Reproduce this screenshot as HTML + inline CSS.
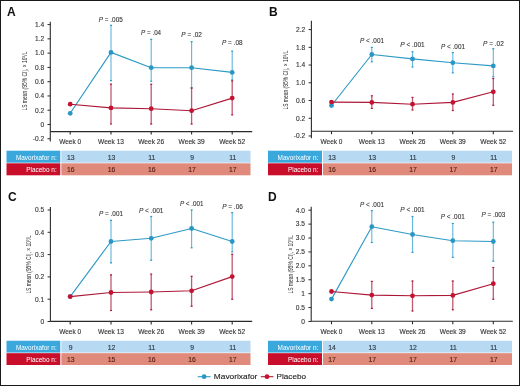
<!DOCTYPE html>
<html><head><meta charset="utf-8"><style>
html,body{margin:0;padding:0;background:#fff;}
body{width:520px;height:386px;overflow:hidden;position:relative;}
.frame{position:absolute;left:0;top:0;width:518px;height:384px;border:1px solid #1a1a1a;}
svg{position:absolute;left:0;top:0;font-family:"Liberation Sans", sans-serif;will-change:transform;}
</style></head><body>
<div class="frame"></div>
<svg width="520" height="386" viewBox="0 0 520 386">
<text x="7" y="15.5" font-size="12" text-anchor="start" fill="#111" font-weight="bold" >A</text>
<text transform="translate(27.0,81.1) rotate(-90)" font-size="6.6" text-anchor="middle" fill="#2a2a2a" textLength="59.0" lengthAdjust="spacingAndGlyphs">LS mean (95% CI), × 10<tspan font-size="4.2" dy="-1.8">9</tspan><tspan dy="1.8">/L</tspan></text>
<line x1="50.3" y1="21.7" x2="50.3" y2="141.4" stroke="#2b2b2b" stroke-width="1.1"/>
<line x1="47.5" y1="24.6" x2="50.3" y2="24.6" stroke="#2b2b2b" stroke-width="1.0"/>
<text x="44.099999999999994" y="26.900000000000002" font-size="6.6" text-anchor="end" fill="#333333" font-weight="normal" stroke="#333333" stroke-width="0.12">1.4</text>
<line x1="47.5" y1="38.870000000000005" x2="50.3" y2="38.870000000000005" stroke="#2b2b2b" stroke-width="1.0"/>
<text x="44.099999999999994" y="41.17" font-size="6.6" text-anchor="end" fill="#333333" font-weight="normal" stroke="#333333" stroke-width="0.12">1.2</text>
<line x1="47.5" y1="53.14" x2="50.3" y2="53.14" stroke="#2b2b2b" stroke-width="1.0"/>
<text x="44.099999999999994" y="55.44" font-size="6.6" text-anchor="end" fill="#333333" font-weight="normal" stroke="#333333" stroke-width="0.12">1.0</text>
<line x1="47.5" y1="67.41" x2="50.3" y2="67.41" stroke="#2b2b2b" stroke-width="1.0"/>
<text x="44.099999999999994" y="69.71" font-size="6.6" text-anchor="end" fill="#333333" font-weight="normal" stroke="#333333" stroke-width="0.12">0.8</text>
<line x1="47.5" y1="81.68" x2="50.3" y2="81.68" stroke="#2b2b2b" stroke-width="1.0"/>
<text x="44.099999999999994" y="83.98" font-size="6.6" text-anchor="end" fill="#333333" font-weight="normal" stroke="#333333" stroke-width="0.12">0.6</text>
<line x1="47.5" y1="95.94999999999999" x2="50.3" y2="95.94999999999999" stroke="#2b2b2b" stroke-width="1.0"/>
<text x="44.099999999999994" y="98.24999999999999" font-size="6.6" text-anchor="end" fill="#333333" font-weight="normal" stroke="#333333" stroke-width="0.12">0.4</text>
<line x1="47.5" y1="110.22" x2="50.3" y2="110.22" stroke="#2b2b2b" stroke-width="1.0"/>
<text x="44.099999999999994" y="112.52" font-size="6.6" text-anchor="end" fill="#333333" font-weight="normal" stroke="#333333" stroke-width="0.12">0.2</text>
<line x1="47.5" y1="124.49000000000001" x2="50.3" y2="124.49000000000001" stroke="#2b2b2b" stroke-width="1.0"/>
<text x="44.099999999999994" y="126.79" font-size="6.6" text-anchor="end" fill="#333333" font-weight="normal" stroke="#333333" stroke-width="0.12">0</text>
<line x1="47.5" y1="138.76" x2="50.3" y2="138.76" stroke="#2b2b2b" stroke-width="1.0"/>
<text x="44.099999999999994" y="141.06" font-size="6.6" text-anchor="end" fill="#333333" font-weight="normal" stroke="#333333" stroke-width="0.12">-0.2</text>
<line x1="50.3" y1="131.6" x2="252.2" y2="131.6" stroke="#2b2b2b" stroke-width="1.1"/>
<line x1="70.2" y1="131.6" x2="70.2" y2="134.6" stroke="#2b2b2b" stroke-width="1.1"/>
<text x="70.2" y="144.4" font-size="6.6" text-anchor="middle" fill="#333333" font-weight="normal" textLength="22" lengthAdjust="spacingAndGlyphs" stroke="#333333" stroke-width="0.12">Week 0</text>
<line x1="111.0" y1="131.6" x2="111.0" y2="134.6" stroke="#2b2b2b" stroke-width="1.1"/>
<text x="111.0" y="144.4" font-size="6.6" text-anchor="middle" fill="#333333" font-weight="normal" textLength="26" lengthAdjust="spacingAndGlyphs" stroke="#333333" stroke-width="0.12">Week 13</text>
<line x1="151.2" y1="131.6" x2="151.2" y2="134.6" stroke="#2b2b2b" stroke-width="1.1"/>
<text x="151.2" y="144.4" font-size="6.6" text-anchor="middle" fill="#333333" font-weight="normal" textLength="26" lengthAdjust="spacingAndGlyphs" stroke="#333333" stroke-width="0.12">Week 26</text>
<line x1="191.6" y1="131.6" x2="191.6" y2="134.6" stroke="#2b2b2b" stroke-width="1.1"/>
<text x="191.6" y="144.4" font-size="6.6" text-anchor="middle" fill="#333333" font-weight="normal" textLength="26" lengthAdjust="spacingAndGlyphs" stroke="#333333" stroke-width="0.12">Week 39</text>
<line x1="232.2" y1="131.6" x2="232.2" y2="134.6" stroke="#2b2b2b" stroke-width="1.1"/>
<text x="232.2" y="144.4" font-size="6.6" text-anchor="middle" fill="#333333" font-weight="normal" textLength="26" lengthAdjust="spacingAndGlyphs" stroke="#333333" stroke-width="0.12">Week 52</text>
<line x1="111.0" y1="25.2" x2="111.0" y2="80.9" stroke="#68b7dc" stroke-width="1.15"/>
<line x1="110.0" y1="25.4" x2="112.0" y2="25.4" stroke="#2e9ac6" stroke-width="1.2"/>
<line x1="110.0" y1="80.7" x2="112.0" y2="80.7" stroke="#2e9ac6" stroke-width="1.2"/>
<line x1="151.2" y1="39.1" x2="151.2" y2="81.5" stroke="#68b7dc" stroke-width="1.15"/>
<line x1="150.2" y1="39.300000000000004" x2="152.2" y2="39.300000000000004" stroke="#2e9ac6" stroke-width="1.2"/>
<line x1="150.2" y1="81.3" x2="152.2" y2="81.3" stroke="#2e9ac6" stroke-width="1.2"/>
<line x1="191.6" y1="41.5" x2="191.6" y2="87.9" stroke="#68b7dc" stroke-width="1.15"/>
<line x1="190.6" y1="41.7" x2="192.6" y2="41.7" stroke="#2e9ac6" stroke-width="1.2"/>
<line x1="190.6" y1="87.7" x2="192.6" y2="87.7" stroke="#2e9ac6" stroke-width="1.2"/>
<line x1="232.2" y1="50.9" x2="232.2" y2="80.2" stroke="#68b7dc" stroke-width="1.15"/>
<line x1="231.2" y1="51.1" x2="233.2" y2="51.1" stroke="#2e9ac6" stroke-width="1.2"/>
<line x1="231.2" y1="80.0" x2="233.2" y2="80.0" stroke="#2e9ac6" stroke-width="1.2"/>
<polyline points="70.2,113.3 111.0,52.4 151.2,67.7 191.6,67.7 232.2,72.4" fill="none" stroke="#2e9ac6" stroke-width="1.15" stroke-linejoin="round"/>
<circle cx="70.2" cy="113.3" r="2.4" fill="#2a96c4"/>
<circle cx="111.0" cy="52.4" r="2.4" fill="#2a96c4"/>
<circle cx="151.2" cy="67.7" r="2.4" fill="#2a96c4"/>
<circle cx="191.6" cy="67.7" r="2.4" fill="#2a96c4"/>
<circle cx="232.2" cy="72.4" r="2.4" fill="#2a96c4"/>
<line x1="111.0" y1="84.0" x2="111.0" y2="124.2" stroke="#c05a74" stroke-width="1.3"/>
<line x1="110.0" y1="84.2" x2="112.0" y2="84.2" stroke="#ad1838" stroke-width="1.2"/>
<line x1="110.0" y1="124.0" x2="112.0" y2="124.0" stroke="#ad1838" stroke-width="1.2"/>
<line x1="151.2" y1="84.0" x2="151.2" y2="124.2" stroke="#c05a74" stroke-width="1.3"/>
<line x1="150.2" y1="84.2" x2="152.2" y2="84.2" stroke="#ad1838" stroke-width="1.2"/>
<line x1="150.2" y1="124.0" x2="152.2" y2="124.0" stroke="#ad1838" stroke-width="1.2"/>
<line x1="191.6" y1="87.9" x2="191.6" y2="124.2" stroke="#c05a74" stroke-width="1.3"/>
<line x1="190.6" y1="88.10000000000001" x2="192.6" y2="88.10000000000001" stroke="#ad1838" stroke-width="1.2"/>
<line x1="190.6" y1="124.0" x2="192.6" y2="124.0" stroke="#ad1838" stroke-width="1.2"/>
<line x1="232.2" y1="80.7" x2="232.2" y2="115.1" stroke="#c05a74" stroke-width="1.3"/>
<line x1="231.2" y1="80.9" x2="233.2" y2="80.9" stroke="#ad1838" stroke-width="1.2"/>
<line x1="231.2" y1="114.89999999999999" x2="233.2" y2="114.89999999999999" stroke="#ad1838" stroke-width="1.2"/>
<polyline points="70.2,104.2 111.0,107.9 151.2,108.7 191.6,110.7 232.2,98.1" fill="none" stroke="#ad1838" stroke-width="1.15" stroke-linejoin="round"/>
<circle cx="70.2" cy="104.2" r="2.4" fill="#c41230"/>
<circle cx="111.0" cy="107.9" r="2.4" fill="#c41230"/>
<circle cx="151.2" cy="108.7" r="2.4" fill="#c41230"/>
<circle cx="191.6" cy="110.7" r="2.4" fill="#c41230"/>
<circle cx="232.2" cy="98.1" r="2.4" fill="#c41230"/>
<text x="110.8" y="21.8" font-size="6.6" text-anchor="middle" fill="#333333" stroke="#333333" stroke-width="0.1" textLength="24" lengthAdjust="spacingAndGlyphs"><tspan font-style="italic">P</tspan> = .005</text>
<text x="151.1" y="35.3" font-size="6.6" text-anchor="middle" fill="#333333" stroke="#333333" stroke-width="0.1" textLength="20" lengthAdjust="spacingAndGlyphs"><tspan font-style="italic">P</tspan> = .04</text>
<text x="191.6" y="36.699999999999996" font-size="6.6" text-anchor="middle" fill="#333333" stroke="#333333" stroke-width="0.1" textLength="20.5" lengthAdjust="spacingAndGlyphs"><tspan font-style="italic">P</tspan> = .02</text>
<text x="232.3" y="45.3" font-size="6.6" text-anchor="middle" fill="#333333" stroke="#333333" stroke-width="0.1" textLength="20.5" lengthAdjust="spacingAndGlyphs"><tspan font-style="italic">P</tspan> = .08</text>
<rect x="6.5" y="150.7" width="53.8" height="12.00000000000001" fill="#3aa7dd"/>
<rect x="61.3" y="150.7" width="189.2" height="12.00000000000001" fill="#b7d9f1"/>
<rect x="6.5" y="163.3" width="53.8" height="12.00000000000001" fill="#c90e2c"/>
<rect x="61.3" y="163.3" width="189.2" height="12.00000000000001" fill="#e08a7b"/>
<text x="56.699999999999996" y="159.65" font-size="6.45" text-anchor="end" fill="#ffffff" font-weight="normal" >Mavorixafor n:</text>
<text x="56.699999999999996" y="171.95000000000002" font-size="6.45" text-anchor="end" fill="#ffffff" font-weight="normal" >Placebo n:</text>
<text x="70.7" y="159.65" font-size="6.8" text-anchor="middle" fill="#2e3c4a" font-weight="normal" stroke="#2e3c4a" stroke-width="0.15">13</text>
<text x="70.7" y="171.95000000000002" font-size="6.8" text-anchor="middle" fill="#5a2218" font-weight="normal" stroke="#5a2218" stroke-width="0.15">16</text>
<text x="111.5" y="159.65" font-size="6.8" text-anchor="middle" fill="#2e3c4a" font-weight="normal" stroke="#2e3c4a" stroke-width="0.15">13</text>
<text x="111.5" y="171.95000000000002" font-size="6.8" text-anchor="middle" fill="#5a2218" font-weight="normal" stroke="#5a2218" stroke-width="0.15">16</text>
<text x="151.7" y="159.65" font-size="6.8" text-anchor="middle" fill="#2e3c4a" font-weight="normal" stroke="#2e3c4a" stroke-width="0.15">11</text>
<text x="151.7" y="171.95000000000002" font-size="6.8" text-anchor="middle" fill="#5a2218" font-weight="normal" stroke="#5a2218" stroke-width="0.15">16</text>
<text x="192.1" y="159.65" font-size="6.8" text-anchor="middle" fill="#2e3c4a" font-weight="normal" stroke="#2e3c4a" stroke-width="0.15">9</text>
<text x="192.1" y="171.95000000000002" font-size="6.8" text-anchor="middle" fill="#5a2218" font-weight="normal" stroke="#5a2218" stroke-width="0.15">17</text>
<text x="232.7" y="159.65" font-size="6.8" text-anchor="middle" fill="#2e3c4a" font-weight="normal" stroke="#2e3c4a" stroke-width="0.15">11</text>
<text x="232.7" y="171.95000000000002" font-size="6.8" text-anchor="middle" fill="#5a2218" font-weight="normal" stroke="#5a2218" stroke-width="0.15">17</text>
<text x="269" y="15.5" font-size="12" text-anchor="start" fill="#111" font-weight="bold" >B</text>
<text transform="translate(288.0,80.1) rotate(-90)" font-size="6.6" text-anchor="middle" fill="#2a2a2a" textLength="59.0" lengthAdjust="spacingAndGlyphs">LS mean (95% CI), × 10<tspan font-size="4.2" dy="-1.8">9</tspan><tspan dy="1.8">/L</tspan></text>
<line x1="311.4" y1="20.7" x2="311.4" y2="138.3" stroke="#2b2b2b" stroke-width="1.1"/>
<line x1="308.59999999999997" y1="29.6" x2="311.4" y2="29.6" stroke="#2b2b2b" stroke-width="1.0"/>
<text x="305.2" y="31.900000000000002" font-size="6.6" text-anchor="end" fill="#333333" font-weight="normal" stroke="#333333" stroke-width="0.12">2.2</text>
<line x1="308.59999999999997" y1="47.33" x2="311.4" y2="47.33" stroke="#2b2b2b" stroke-width="1.0"/>
<text x="305.2" y="49.629999999999995" font-size="6.6" text-anchor="end" fill="#333333" font-weight="normal" stroke="#333333" stroke-width="0.12">1.8</text>
<line x1="308.59999999999997" y1="65.06" x2="311.4" y2="65.06" stroke="#2b2b2b" stroke-width="1.0"/>
<text x="305.2" y="67.36" font-size="6.6" text-anchor="end" fill="#333333" font-weight="normal" stroke="#333333" stroke-width="0.12">1.4</text>
<line x1="308.59999999999997" y1="82.78999999999999" x2="311.4" y2="82.78999999999999" stroke="#2b2b2b" stroke-width="1.0"/>
<text x="305.2" y="85.08999999999999" font-size="6.6" text-anchor="end" fill="#333333" font-weight="normal" stroke="#333333" stroke-width="0.12">1.0</text>
<line x1="308.59999999999997" y1="100.52000000000001" x2="311.4" y2="100.52000000000001" stroke="#2b2b2b" stroke-width="1.0"/>
<text x="305.2" y="102.82000000000001" font-size="6.6" text-anchor="end" fill="#333333" font-weight="normal" stroke="#333333" stroke-width="0.12">0.6</text>
<line x1="308.59999999999997" y1="118.25" x2="311.4" y2="118.25" stroke="#2b2b2b" stroke-width="1.0"/>
<text x="305.2" y="120.55" font-size="6.6" text-anchor="end" fill="#333333" font-weight="normal" stroke="#333333" stroke-width="0.12">0.2</text>
<line x1="308.59999999999997" y1="135.98" x2="311.4" y2="135.98" stroke="#2b2b2b" stroke-width="1.0"/>
<text x="305.2" y="138.28" font-size="6.6" text-anchor="end" fill="#333333" font-weight="normal" stroke="#333333" stroke-width="0.12">-0.2</text>
<line x1="311.4" y1="131.2" x2="513.0" y2="131.2" stroke="#2b2b2b" stroke-width="1.1"/>
<line x1="331.5" y1="131.2" x2="331.5" y2="134.2" stroke="#2b2b2b" stroke-width="1.1"/>
<text x="331.5" y="144.0" font-size="6.6" text-anchor="middle" fill="#333333" font-weight="normal" textLength="22" lengthAdjust="spacingAndGlyphs" stroke="#333333" stroke-width="0.12">Week 0</text>
<line x1="371.8" y1="131.2" x2="371.8" y2="134.2" stroke="#2b2b2b" stroke-width="1.1"/>
<text x="371.8" y="144.0" font-size="6.6" text-anchor="middle" fill="#333333" font-weight="normal" textLength="26" lengthAdjust="spacingAndGlyphs" stroke="#333333" stroke-width="0.12">Week 13</text>
<line x1="412.5" y1="131.2" x2="412.5" y2="134.2" stroke="#2b2b2b" stroke-width="1.1"/>
<text x="412.5" y="144.0" font-size="6.6" text-anchor="middle" fill="#333333" font-weight="normal" textLength="26" lengthAdjust="spacingAndGlyphs" stroke="#333333" stroke-width="0.12">Week 26</text>
<line x1="452.8" y1="131.2" x2="452.8" y2="134.2" stroke="#2b2b2b" stroke-width="1.1"/>
<text x="452.8" y="144.0" font-size="6.6" text-anchor="middle" fill="#333333" font-weight="normal" textLength="26" lengthAdjust="spacingAndGlyphs" stroke="#333333" stroke-width="0.12">Week 39</text>
<line x1="493.3" y1="131.2" x2="493.3" y2="134.2" stroke="#2b2b2b" stroke-width="1.1"/>
<text x="493.3" y="144.0" font-size="6.6" text-anchor="middle" fill="#333333" font-weight="normal" textLength="26" lengthAdjust="spacingAndGlyphs" stroke="#333333" stroke-width="0.12">Week 52</text>
<line x1="371.8" y1="47.2" x2="371.8" y2="62.0" stroke="#68b7dc" stroke-width="1.15"/>
<line x1="370.8" y1="47.400000000000006" x2="372.8" y2="47.400000000000006" stroke="#2e9ac6" stroke-width="1.2"/>
<line x1="370.8" y1="61.8" x2="372.8" y2="61.8" stroke="#2e9ac6" stroke-width="1.2"/>
<line x1="412.5" y1="51.6" x2="412.5" y2="67.2" stroke="#68b7dc" stroke-width="1.15"/>
<line x1="411.5" y1="51.800000000000004" x2="413.5" y2="51.800000000000004" stroke="#2e9ac6" stroke-width="1.2"/>
<line x1="411.5" y1="67.0" x2="413.5" y2="67.0" stroke="#2e9ac6" stroke-width="1.2"/>
<line x1="452.8" y1="52.4" x2="452.8" y2="73.1" stroke="#68b7dc" stroke-width="1.15"/>
<line x1="451.8" y1="52.6" x2="453.8" y2="52.6" stroke="#2e9ac6" stroke-width="1.2"/>
<line x1="451.8" y1="72.89999999999999" x2="453.8" y2="72.89999999999999" stroke="#2e9ac6" stroke-width="1.2"/>
<line x1="493.3" y1="48.5" x2="493.3" y2="77.0" stroke="#68b7dc" stroke-width="1.15"/>
<line x1="492.3" y1="48.7" x2="494.3" y2="48.7" stroke="#2e9ac6" stroke-width="1.2"/>
<line x1="492.3" y1="76.8" x2="494.3" y2="76.8" stroke="#2e9ac6" stroke-width="1.2"/>
<polyline points="331.5,105.5 371.8,54.5 412.5,58.9 452.8,62.7 493.3,65.9" fill="none" stroke="#2e9ac6" stroke-width="1.15" stroke-linejoin="round"/>
<circle cx="331.5" cy="105.5" r="2.4" fill="#2a96c4"/>
<circle cx="371.8" cy="54.5" r="2.4" fill="#2a96c4"/>
<circle cx="412.5" cy="58.9" r="2.4" fill="#2a96c4"/>
<circle cx="452.8" cy="62.7" r="2.4" fill="#2a96c4"/>
<circle cx="493.3" cy="65.9" r="2.4" fill="#2a96c4"/>
<line x1="371.8" y1="95.6" x2="371.8" y2="108.6" stroke="#c05a74" stroke-width="1.3"/>
<line x1="370.8" y1="95.8" x2="372.8" y2="95.8" stroke="#ad1838" stroke-width="1.2"/>
<line x1="370.8" y1="108.39999999999999" x2="372.8" y2="108.39999999999999" stroke="#ad1838" stroke-width="1.2"/>
<line x1="412.5" y1="97.2" x2="412.5" y2="110.2" stroke="#c05a74" stroke-width="1.3"/>
<line x1="411.5" y1="97.4" x2="413.5" y2="97.4" stroke="#ad1838" stroke-width="1.2"/>
<line x1="411.5" y1="110.0" x2="413.5" y2="110.0" stroke="#ad1838" stroke-width="1.2"/>
<line x1="452.8" y1="93.8" x2="452.8" y2="110.7" stroke="#c05a74" stroke-width="1.3"/>
<line x1="451.8" y1="94.0" x2="453.8" y2="94.0" stroke="#ad1838" stroke-width="1.2"/>
<line x1="451.8" y1="110.5" x2="453.8" y2="110.5" stroke="#ad1838" stroke-width="1.2"/>
<line x1="493.3" y1="78.3" x2="493.3" y2="105.5" stroke="#c05a74" stroke-width="1.3"/>
<line x1="492.3" y1="78.5" x2="494.3" y2="78.5" stroke="#ad1838" stroke-width="1.2"/>
<line x1="492.3" y1="105.3" x2="494.3" y2="105.3" stroke="#ad1838" stroke-width="1.2"/>
<polyline points="331.5,102.1 371.8,102.4 412.5,104.2 452.8,102.4 493.3,91.8" fill="none" stroke="#ad1838" stroke-width="1.15" stroke-linejoin="round"/>
<circle cx="331.5" cy="102.1" r="2.4" fill="#c41230"/>
<circle cx="371.8" cy="102.4" r="2.4" fill="#c41230"/>
<circle cx="412.5" cy="104.2" r="2.4" fill="#c41230"/>
<circle cx="452.8" cy="102.4" r="2.4" fill="#c41230"/>
<circle cx="493.3" cy="91.8" r="2.4" fill="#c41230"/>
<text x="372" y="42.5" font-size="6.6" text-anchor="middle" fill="#333333" stroke="#333333" stroke-width="0.1" textLength="24" lengthAdjust="spacingAndGlyphs"><tspan font-style="italic">P</tspan> &lt; .001</text>
<text x="412.5" y="47.3" font-size="6.6" text-anchor="middle" fill="#333333" stroke="#333333" stroke-width="0.1" textLength="24.5" lengthAdjust="spacingAndGlyphs"><tspan font-style="italic">P</tspan> &lt; .001</text>
<text x="453" y="48.699999999999996" font-size="6.6" text-anchor="middle" fill="#333333" stroke="#333333" stroke-width="0.1" textLength="24" lengthAdjust="spacingAndGlyphs"><tspan font-style="italic">P</tspan> &lt; .001</text>
<text x="493.4" y="45.599999999999994" font-size="6.6" text-anchor="middle" fill="#333333" stroke="#333333" stroke-width="0.1" textLength="20.8" lengthAdjust="spacingAndGlyphs"><tspan font-style="italic">P</tspan> = .02</text>
<rect x="268.0" y="150.7" width="54.0" height="12.00000000000001" fill="#3aa7dd"/>
<rect x="323.0" y="150.7" width="189.0" height="12.00000000000001" fill="#b7d9f1"/>
<rect x="268.0" y="163.3" width="54.0" height="12.00000000000001" fill="#c90e2c"/>
<rect x="323.0" y="163.3" width="189.0" height="12.00000000000001" fill="#e08a7b"/>
<text x="318.4" y="159.65" font-size="6.45" text-anchor="end" fill="#ffffff" font-weight="normal" >Mavorixafor n:</text>
<text x="318.4" y="171.95000000000002" font-size="6.45" text-anchor="end" fill="#ffffff" font-weight="normal" >Placebo n:</text>
<text x="332.0" y="159.65" font-size="6.8" text-anchor="middle" fill="#2e3c4a" font-weight="normal" stroke="#2e3c4a" stroke-width="0.15">13</text>
<text x="332.0" y="171.95000000000002" font-size="6.8" text-anchor="middle" fill="#5a2218" font-weight="normal" stroke="#5a2218" stroke-width="0.15">16</text>
<text x="372.3" y="159.65" font-size="6.8" text-anchor="middle" fill="#2e3c4a" font-weight="normal" stroke="#2e3c4a" stroke-width="0.15">13</text>
<text x="372.3" y="171.95000000000002" font-size="6.8" text-anchor="middle" fill="#5a2218" font-weight="normal" stroke="#5a2218" stroke-width="0.15">16</text>
<text x="413.0" y="159.65" font-size="6.8" text-anchor="middle" fill="#2e3c4a" font-weight="normal" stroke="#2e3c4a" stroke-width="0.15">11</text>
<text x="413.0" y="171.95000000000002" font-size="6.8" text-anchor="middle" fill="#5a2218" font-weight="normal" stroke="#5a2218" stroke-width="0.15">17</text>
<text x="453.3" y="159.65" font-size="6.8" text-anchor="middle" fill="#2e3c4a" font-weight="normal" stroke="#2e3c4a" stroke-width="0.15">9</text>
<text x="453.3" y="171.95000000000002" font-size="6.8" text-anchor="middle" fill="#5a2218" font-weight="normal" stroke="#5a2218" stroke-width="0.15">17</text>
<text x="493.8" y="159.65" font-size="6.8" text-anchor="middle" fill="#2e3c4a" font-weight="normal" stroke="#2e3c4a" stroke-width="0.15">11</text>
<text x="493.8" y="171.95000000000002" font-size="6.8" text-anchor="middle" fill="#5a2218" font-weight="normal" stroke="#5a2218" stroke-width="0.15">17</text>
<text x="8" y="200.7" font-size="12" text-anchor="start" fill="#111" font-weight="bold" >C</text>
<text transform="translate(31.1,264.5) rotate(-90)" font-size="6.6" text-anchor="middle" fill="#2a2a2a" textLength="58.2" lengthAdjust="spacingAndGlyphs">LS mean (95% CI), × 10<tspan font-size="4.2" dy="-1.8">9</tspan><tspan dy="1.8">/L</tspan></text>
<line x1="50.4" y1="207.0" x2="50.4" y2="321.5" stroke="#2b2b2b" stroke-width="1.1"/>
<line x1="47.6" y1="210.0" x2="50.4" y2="210.0" stroke="#2b2b2b" stroke-width="1.0"/>
<text x="44.199999999999996" y="212.3" font-size="6.6" text-anchor="end" fill="#333333" font-weight="normal" stroke="#333333" stroke-width="0.12">0.5</text>
<line x1="47.6" y1="232.3" x2="50.4" y2="232.3" stroke="#2b2b2b" stroke-width="1.0"/>
<text x="44.199999999999996" y="234.60000000000002" font-size="6.6" text-anchor="end" fill="#333333" font-weight="normal" stroke="#333333" stroke-width="0.12">0.4</text>
<line x1="47.6" y1="254.6" x2="50.4" y2="254.6" stroke="#2b2b2b" stroke-width="1.0"/>
<text x="44.199999999999996" y="256.9" font-size="6.6" text-anchor="end" fill="#333333" font-weight="normal" stroke="#333333" stroke-width="0.12">0.3</text>
<line x1="47.6" y1="276.9" x2="50.4" y2="276.9" stroke="#2b2b2b" stroke-width="1.0"/>
<text x="44.199999999999996" y="279.2" font-size="6.6" text-anchor="end" fill="#333333" font-weight="normal" stroke="#333333" stroke-width="0.12">0.2</text>
<line x1="47.6" y1="299.2" x2="50.4" y2="299.2" stroke="#2b2b2b" stroke-width="1.0"/>
<text x="44.199999999999996" y="301.5" font-size="6.6" text-anchor="end" fill="#333333" font-weight="normal" stroke="#333333" stroke-width="0.12">0.1</text>
<line x1="47.6" y1="321.5" x2="50.4" y2="321.5" stroke="#2b2b2b" stroke-width="1.0"/>
<text x="44.199999999999996" y="323.8" font-size="6.6" text-anchor="end" fill="#333333" font-weight="normal" stroke="#333333" stroke-width="0.12">0</text>
<line x1="50.4" y1="321.4" x2="252.2" y2="321.4" stroke="#2b2b2b" stroke-width="1.1"/>
<line x1="70.2" y1="321.4" x2="70.2" y2="324.4" stroke="#2b2b2b" stroke-width="1.1"/>
<text x="70.2" y="334.2" font-size="6.6" text-anchor="middle" fill="#333333" font-weight="normal" textLength="22" lengthAdjust="spacingAndGlyphs" stroke="#333333" stroke-width="0.12">Week 0</text>
<line x1="111.0" y1="321.4" x2="111.0" y2="324.4" stroke="#2b2b2b" stroke-width="1.1"/>
<text x="111.0" y="334.2" font-size="6.6" text-anchor="middle" fill="#333333" font-weight="normal" textLength="26" lengthAdjust="spacingAndGlyphs" stroke="#333333" stroke-width="0.12">Week 13</text>
<line x1="151.2" y1="321.4" x2="151.2" y2="324.4" stroke="#2b2b2b" stroke-width="1.1"/>
<text x="151.2" y="334.2" font-size="6.6" text-anchor="middle" fill="#333333" font-weight="normal" textLength="26" lengthAdjust="spacingAndGlyphs" stroke="#333333" stroke-width="0.12">Week 26</text>
<line x1="191.6" y1="321.4" x2="191.6" y2="324.4" stroke="#2b2b2b" stroke-width="1.1"/>
<text x="191.6" y="334.2" font-size="6.6" text-anchor="middle" fill="#333333" font-weight="normal" textLength="26" lengthAdjust="spacingAndGlyphs" stroke="#333333" stroke-width="0.12">Week 39</text>
<line x1="232.2" y1="321.4" x2="232.2" y2="324.4" stroke="#2b2b2b" stroke-width="1.1"/>
<text x="232.2" y="334.2" font-size="6.6" text-anchor="middle" fill="#333333" font-weight="normal" textLength="26" lengthAdjust="spacingAndGlyphs" stroke="#333333" stroke-width="0.12">Week 52</text>
<line x1="111.0" y1="220.2" x2="111.0" y2="263.0" stroke="#68b7dc" stroke-width="1.15"/>
<line x1="110.0" y1="220.39999999999998" x2="112.0" y2="220.39999999999998" stroke="#2e9ac6" stroke-width="1.2"/>
<line x1="110.0" y1="262.8" x2="112.0" y2="262.8" stroke="#2e9ac6" stroke-width="1.2"/>
<line x1="151.2" y1="216.3" x2="151.2" y2="260.4" stroke="#68b7dc" stroke-width="1.15"/>
<line x1="150.2" y1="216.5" x2="152.2" y2="216.5" stroke="#2e9ac6" stroke-width="1.2"/>
<line x1="150.2" y1="260.2" x2="152.2" y2="260.2" stroke="#2e9ac6" stroke-width="1.2"/>
<line x1="191.6" y1="209.8" x2="191.6" y2="248.0" stroke="#68b7dc" stroke-width="1.15"/>
<line x1="190.6" y1="210.0" x2="192.6" y2="210.0" stroke="#2e9ac6" stroke-width="1.2"/>
<line x1="190.6" y1="247.8" x2="192.6" y2="247.8" stroke="#2e9ac6" stroke-width="1.2"/>
<line x1="232.2" y1="212.4" x2="232.2" y2="252.0" stroke="#68b7dc" stroke-width="1.15"/>
<line x1="231.2" y1="212.6" x2="233.2" y2="212.6" stroke="#2e9ac6" stroke-width="1.2"/>
<line x1="231.2" y1="251.8" x2="233.2" y2="251.8" stroke="#2e9ac6" stroke-width="1.2"/>
<polyline points="70.2,296.6 111.0,241.5 151.2,238.3 191.6,228.5 232.2,241.5" fill="none" stroke="#2e9ac6" stroke-width="1.15" stroke-linejoin="round"/>
<circle cx="70.2" cy="296.6" r="2.4" fill="#2a96c4"/>
<circle cx="111.0" cy="241.5" r="2.4" fill="#2a96c4"/>
<circle cx="151.2" cy="238.3" r="2.4" fill="#2a96c4"/>
<circle cx="191.6" cy="228.5" r="2.4" fill="#2a96c4"/>
<circle cx="232.2" cy="241.5" r="2.4" fill="#2a96c4"/>
<line x1="111.0" y1="274.7" x2="111.0" y2="310.7" stroke="#c05a74" stroke-width="1.3"/>
<line x1="110.0" y1="274.9" x2="112.0" y2="274.9" stroke="#ad1838" stroke-width="1.2"/>
<line x1="110.0" y1="310.5" x2="112.0" y2="310.5" stroke="#ad1838" stroke-width="1.2"/>
<line x1="151.2" y1="273.9" x2="151.2" y2="310.0" stroke="#c05a74" stroke-width="1.3"/>
<line x1="150.2" y1="274.09999999999997" x2="152.2" y2="274.09999999999997" stroke="#ad1838" stroke-width="1.2"/>
<line x1="150.2" y1="309.8" x2="152.2" y2="309.8" stroke="#ad1838" stroke-width="1.2"/>
<line x1="191.6" y1="276.1" x2="191.6" y2="306.4" stroke="#c05a74" stroke-width="1.3"/>
<line x1="190.6" y1="276.3" x2="192.6" y2="276.3" stroke="#ad1838" stroke-width="1.2"/>
<line x1="190.6" y1="306.2" x2="192.6" y2="306.2" stroke="#ad1838" stroke-width="1.2"/>
<line x1="232.2" y1="254.0" x2="232.2" y2="299.4" stroke="#c05a74" stroke-width="1.3"/>
<line x1="231.2" y1="254.2" x2="233.2" y2="254.2" stroke="#ad1838" stroke-width="1.2"/>
<line x1="231.2" y1="299.2" x2="233.2" y2="299.2" stroke="#ad1838" stroke-width="1.2"/>
<polyline points="70.2,296.6 111.0,292.5 151.2,292.0 191.6,290.8 232.2,276.6" fill="none" stroke="#ad1838" stroke-width="1.15" stroke-linejoin="round"/>
<circle cx="70.2" cy="296.6" r="2.4" fill="#c41230"/>
<circle cx="111.0" cy="292.5" r="2.4" fill="#c41230"/>
<circle cx="151.2" cy="292.0" r="2.4" fill="#c41230"/>
<circle cx="191.6" cy="290.8" r="2.4" fill="#c41230"/>
<circle cx="232.2" cy="276.6" r="2.4" fill="#c41230"/>
<text x="111" y="216.0" font-size="6.6" text-anchor="middle" fill="#333333" stroke="#333333" stroke-width="0.1" textLength="24" lengthAdjust="spacingAndGlyphs"><tspan font-style="italic">P</tspan> = .001</text>
<text x="151.2" y="213.20000000000002" font-size="6.6" text-anchor="middle" fill="#333333" stroke="#333333" stroke-width="0.1" textLength="24.5" lengthAdjust="spacingAndGlyphs"><tspan font-style="italic">P</tspan> &lt; .001</text>
<text x="191.7" y="205.70000000000002" font-size="6.6" text-anchor="middle" fill="#333333" stroke="#333333" stroke-width="0.1" textLength="23.5" lengthAdjust="spacingAndGlyphs"><tspan font-style="italic">P</tspan> &lt; .001</text>
<text x="232.5" y="208.8" font-size="6.6" text-anchor="middle" fill="#333333" stroke="#333333" stroke-width="0.1" textLength="20.7" lengthAdjust="spacingAndGlyphs"><tspan font-style="italic">P</tspan> = .06</text>
<rect x="6.5" y="340.75" width="53.8" height="11.825" fill="#3aa7dd"/>
<rect x="61.3" y="340.75" width="189.2" height="11.825" fill="#b7d9f1"/>
<rect x="6.5" y="353.175" width="53.8" height="11.825" fill="#c90e2c"/>
<rect x="61.3" y="353.175" width="189.2" height="11.825" fill="#e08a7b"/>
<text x="56.699999999999996" y="349.6125" font-size="6.45" text-anchor="end" fill="#ffffff" font-weight="normal" >Mavorixafor n:</text>
<text x="56.699999999999996" y="361.7375" font-size="6.45" text-anchor="end" fill="#ffffff" font-weight="normal" >Placebo n:</text>
<text x="70.7" y="349.6125" font-size="6.8" text-anchor="middle" fill="#2e3c4a" font-weight="normal" stroke="#2e3c4a" stroke-width="0.15">9</text>
<text x="70.7" y="361.7375" font-size="6.8" text-anchor="middle" fill="#5a2218" font-weight="normal" stroke="#5a2218" stroke-width="0.15">13</text>
<text x="111.5" y="349.6125" font-size="6.8" text-anchor="middle" fill="#2e3c4a" font-weight="normal" stroke="#2e3c4a" stroke-width="0.15">12</text>
<text x="111.5" y="361.7375" font-size="6.8" text-anchor="middle" fill="#5a2218" font-weight="normal" stroke="#5a2218" stroke-width="0.15">15</text>
<text x="151.7" y="349.6125" font-size="6.8" text-anchor="middle" fill="#2e3c4a" font-weight="normal" stroke="#2e3c4a" stroke-width="0.15">11</text>
<text x="151.7" y="361.7375" font-size="6.8" text-anchor="middle" fill="#5a2218" font-weight="normal" stroke="#5a2218" stroke-width="0.15">16</text>
<text x="192.1" y="349.6125" font-size="6.8" text-anchor="middle" fill="#2e3c4a" font-weight="normal" stroke="#2e3c4a" stroke-width="0.15">9</text>
<text x="192.1" y="361.7375" font-size="6.8" text-anchor="middle" fill="#5a2218" font-weight="normal" stroke="#5a2218" stroke-width="0.15">16</text>
<text x="232.7" y="349.6125" font-size="6.8" text-anchor="middle" fill="#2e3c4a" font-weight="normal" stroke="#2e3c4a" stroke-width="0.15">11</text>
<text x="232.7" y="361.7375" font-size="6.8" text-anchor="middle" fill="#5a2218" font-weight="normal" stroke="#5a2218" stroke-width="0.15">17</text>
<text x="268" y="200.9" font-size="12" text-anchor="start" fill="#111" font-weight="bold" >D</text>
<text transform="translate(292.7,264.3) rotate(-90)" font-size="6.6" text-anchor="middle" fill="#2a2a2a" textLength="58.2" lengthAdjust="spacingAndGlyphs">LS mean (95% CI), × 10<tspan font-size="4.2" dy="-1.8">9</tspan><tspan dy="1.8">/L</tspan></text>
<line x1="311.2" y1="206.7" x2="311.2" y2="321.5" stroke="#2b2b2b" stroke-width="1.1"/>
<line x1="308.4" y1="210.2" x2="311.2" y2="210.2" stroke="#2b2b2b" stroke-width="1.0"/>
<text x="305.0" y="212.5" font-size="6.6" text-anchor="end" fill="#333333" font-weight="normal" stroke="#333333" stroke-width="0.12">4.0</text>
<line x1="308.4" y1="224.10999999999999" x2="311.2" y2="224.10999999999999" stroke="#2b2b2b" stroke-width="1.0"/>
<text x="305.0" y="226.41" font-size="6.6" text-anchor="end" fill="#333333" font-weight="normal" stroke="#333333" stroke-width="0.12">3.5</text>
<line x1="308.4" y1="238.01999999999998" x2="311.2" y2="238.01999999999998" stroke="#2b2b2b" stroke-width="1.0"/>
<text x="305.0" y="240.32" font-size="6.6" text-anchor="end" fill="#333333" font-weight="normal" stroke="#333333" stroke-width="0.12">3.0</text>
<line x1="308.4" y1="251.93" x2="311.2" y2="251.93" stroke="#2b2b2b" stroke-width="1.0"/>
<text x="305.0" y="254.23000000000002" font-size="6.6" text-anchor="end" fill="#333333" font-weight="normal" stroke="#333333" stroke-width="0.12">2.5</text>
<line x1="308.4" y1="265.84" x2="311.2" y2="265.84" stroke="#2b2b2b" stroke-width="1.0"/>
<text x="305.0" y="268.14" font-size="6.6" text-anchor="end" fill="#333333" font-weight="normal" stroke="#333333" stroke-width="0.12">2.0</text>
<line x1="308.4" y1="279.75" x2="311.2" y2="279.75" stroke="#2b2b2b" stroke-width="1.0"/>
<text x="305.0" y="282.05" font-size="6.6" text-anchor="end" fill="#333333" font-weight="normal" stroke="#333333" stroke-width="0.12">1.5</text>
<line x1="308.4" y1="293.65999999999997" x2="311.2" y2="293.65999999999997" stroke="#2b2b2b" stroke-width="1.0"/>
<text x="305.0" y="295.96" font-size="6.6" text-anchor="end" fill="#333333" font-weight="normal" stroke="#333333" stroke-width="0.12">1</text>
<line x1="308.4" y1="307.57" x2="311.2" y2="307.57" stroke="#2b2b2b" stroke-width="1.0"/>
<text x="305.0" y="309.87" font-size="6.6" text-anchor="end" fill="#333333" font-weight="normal" stroke="#333333" stroke-width="0.12">0.5</text>
<line x1="308.4" y1="321.48" x2="311.2" y2="321.48" stroke="#2b2b2b" stroke-width="1.0"/>
<text x="305.0" y="323.78000000000003" font-size="6.6" text-anchor="end" fill="#333333" font-weight="normal" stroke="#333333" stroke-width="0.12">0</text>
<line x1="311.2" y1="321.3" x2="512.8" y2="321.3" stroke="#2b2b2b" stroke-width="1.1"/>
<line x1="331.5" y1="321.3" x2="331.5" y2="324.3" stroke="#2b2b2b" stroke-width="1.1"/>
<text x="331.5" y="334.1" font-size="6.6" text-anchor="middle" fill="#333333" font-weight="normal" textLength="22" lengthAdjust="spacingAndGlyphs" stroke="#333333" stroke-width="0.12">Week 0</text>
<line x1="371.8" y1="321.3" x2="371.8" y2="324.3" stroke="#2b2b2b" stroke-width="1.1"/>
<text x="371.8" y="334.1" font-size="6.6" text-anchor="middle" fill="#333333" font-weight="normal" textLength="26" lengthAdjust="spacingAndGlyphs" stroke="#333333" stroke-width="0.12">Week 13</text>
<line x1="412.5" y1="321.3" x2="412.5" y2="324.3" stroke="#2b2b2b" stroke-width="1.1"/>
<text x="412.5" y="334.1" font-size="6.6" text-anchor="middle" fill="#333333" font-weight="normal" textLength="26" lengthAdjust="spacingAndGlyphs" stroke="#333333" stroke-width="0.12">Week 26</text>
<line x1="452.8" y1="321.3" x2="452.8" y2="324.3" stroke="#2b2b2b" stroke-width="1.1"/>
<text x="452.8" y="334.1" font-size="6.6" text-anchor="middle" fill="#333333" font-weight="normal" textLength="26" lengthAdjust="spacingAndGlyphs" stroke="#333333" stroke-width="0.12">Week 39</text>
<line x1="493.3" y1="321.3" x2="493.3" y2="324.3" stroke="#2b2b2b" stroke-width="1.1"/>
<text x="493.3" y="334.1" font-size="6.6" text-anchor="middle" fill="#333333" font-weight="normal" textLength="26" lengthAdjust="spacingAndGlyphs" stroke="#333333" stroke-width="0.12">Week 52</text>
<line x1="371.8" y1="210.4" x2="371.8" y2="242.7" stroke="#68b7dc" stroke-width="1.15"/>
<line x1="370.8" y1="210.6" x2="372.8" y2="210.6" stroke="#2e9ac6" stroke-width="1.2"/>
<line x1="370.8" y1="242.5" x2="372.8" y2="242.5" stroke="#2e9ac6" stroke-width="1.2"/>
<line x1="412.5" y1="216.3" x2="412.5" y2="252.6" stroke="#68b7dc" stroke-width="1.15"/>
<line x1="411.5" y1="216.5" x2="413.5" y2="216.5" stroke="#2e9ac6" stroke-width="1.2"/>
<line x1="411.5" y1="252.4" x2="413.5" y2="252.4" stroke="#2e9ac6" stroke-width="1.2"/>
<line x1="452.8" y1="223.3" x2="452.8" y2="257.5" stroke="#68b7dc" stroke-width="1.15"/>
<line x1="451.8" y1="223.5" x2="453.8" y2="223.5" stroke="#2e9ac6" stroke-width="1.2"/>
<line x1="451.8" y1="257.3" x2="453.8" y2="257.3" stroke="#2e9ac6" stroke-width="1.2"/>
<line x1="493.3" y1="222.0" x2="493.3" y2="261.4" stroke="#68b7dc" stroke-width="1.15"/>
<line x1="492.3" y1="222.2" x2="494.3" y2="222.2" stroke="#2e9ac6" stroke-width="1.2"/>
<line x1="492.3" y1="261.2" x2="494.3" y2="261.2" stroke="#2e9ac6" stroke-width="1.2"/>
<polyline points="331.5,299.1 371.8,226.7 412.5,234.5 452.8,240.7 493.3,241.5" fill="none" stroke="#2e9ac6" stroke-width="1.15" stroke-linejoin="round"/>
<circle cx="331.5" cy="299.1" r="2.4" fill="#2a96c4"/>
<circle cx="371.8" cy="226.7" r="2.4" fill="#2a96c4"/>
<circle cx="412.5" cy="234.5" r="2.4" fill="#2a96c4"/>
<circle cx="452.8" cy="240.7" r="2.4" fill="#2a96c4"/>
<circle cx="493.3" cy="241.5" r="2.4" fill="#2a96c4"/>
<line x1="371.8" y1="281.2" x2="371.8" y2="308.6" stroke="#c05a74" stroke-width="1.3"/>
<line x1="370.8" y1="281.4" x2="372.8" y2="281.4" stroke="#ad1838" stroke-width="1.2"/>
<line x1="370.8" y1="308.40000000000003" x2="372.8" y2="308.40000000000003" stroke="#ad1838" stroke-width="1.2"/>
<line x1="412.5" y1="280.8" x2="412.5" y2="311.2" stroke="#c05a74" stroke-width="1.3"/>
<line x1="411.5" y1="281.0" x2="413.5" y2="281.0" stroke="#ad1838" stroke-width="1.2"/>
<line x1="411.5" y1="311.0" x2="413.5" y2="311.0" stroke="#ad1838" stroke-width="1.2"/>
<line x1="452.8" y1="280.8" x2="452.8" y2="310.0" stroke="#c05a74" stroke-width="1.3"/>
<line x1="451.8" y1="281.0" x2="453.8" y2="281.0" stroke="#ad1838" stroke-width="1.2"/>
<line x1="451.8" y1="309.8" x2="453.8" y2="309.8" stroke="#ad1838" stroke-width="1.2"/>
<line x1="493.3" y1="267.3" x2="493.3" y2="299.5" stroke="#c05a74" stroke-width="1.3"/>
<line x1="492.3" y1="267.5" x2="494.3" y2="267.5" stroke="#ad1838" stroke-width="1.2"/>
<line x1="492.3" y1="299.3" x2="494.3" y2="299.3" stroke="#ad1838" stroke-width="1.2"/>
<polyline points="331.5,291.5 371.8,295.1 412.5,295.8 452.8,295.4 493.3,283.7" fill="none" stroke="#ad1838" stroke-width="1.15" stroke-linejoin="round"/>
<circle cx="331.5" cy="291.5" r="2.4" fill="#c41230"/>
<circle cx="371.8" cy="295.1" r="2.4" fill="#c41230"/>
<circle cx="412.5" cy="295.8" r="2.4" fill="#c41230"/>
<circle cx="452.8" cy="295.4" r="2.4" fill="#c41230"/>
<circle cx="493.3" cy="283.7" r="2.4" fill="#c41230"/>
<text x="372" y="207.0" font-size="6.6" text-anchor="middle" fill="#333333" stroke="#333333" stroke-width="0.1" textLength="24" lengthAdjust="spacingAndGlyphs"><tspan font-style="italic">P</tspan> &lt; .001</text>
<text x="412.5" y="212.10000000000002" font-size="6.6" text-anchor="middle" fill="#333333" stroke="#333333" stroke-width="0.1" textLength="24.5" lengthAdjust="spacingAndGlyphs"><tspan font-style="italic">P</tspan> &lt; .001</text>
<text x="452.8" y="219.10000000000002" font-size="6.6" text-anchor="middle" fill="#333333" stroke="#333333" stroke-width="0.1" textLength="24" lengthAdjust="spacingAndGlyphs"><tspan font-style="italic">P</tspan> &lt; .001</text>
<text x="493.4" y="217.3" font-size="6.6" text-anchor="middle" fill="#333333" stroke="#333333" stroke-width="0.1" textLength="24" lengthAdjust="spacingAndGlyphs"><tspan font-style="italic">P</tspan> = .003</text>
<rect x="268.0" y="340.75" width="54.0" height="11.825" fill="#3aa7dd"/>
<rect x="323.0" y="340.75" width="189.0" height="11.825" fill="#b7d9f1"/>
<rect x="268.0" y="353.175" width="54.0" height="11.825" fill="#c90e2c"/>
<rect x="323.0" y="353.175" width="189.0" height="11.825" fill="#e08a7b"/>
<text x="318.4" y="349.6125" font-size="6.45" text-anchor="end" fill="#ffffff" font-weight="normal" >Mavorixafor n:</text>
<text x="318.4" y="361.7375" font-size="6.45" text-anchor="end" fill="#ffffff" font-weight="normal" >Placebo n:</text>
<text x="332.0" y="349.6125" font-size="6.8" text-anchor="middle" fill="#2e3c4a" font-weight="normal" stroke="#2e3c4a" stroke-width="0.15">14</text>
<text x="332.0" y="361.7375" font-size="6.8" text-anchor="middle" fill="#5a2218" font-weight="normal" stroke="#5a2218" stroke-width="0.15">17</text>
<text x="372.3" y="349.6125" font-size="6.8" text-anchor="middle" fill="#2e3c4a" font-weight="normal" stroke="#2e3c4a" stroke-width="0.15">13</text>
<text x="372.3" y="361.7375" font-size="6.8" text-anchor="middle" fill="#5a2218" font-weight="normal" stroke="#5a2218" stroke-width="0.15">17</text>
<text x="413.0" y="349.6125" font-size="6.8" text-anchor="middle" fill="#2e3c4a" font-weight="normal" stroke="#2e3c4a" stroke-width="0.15">12</text>
<text x="413.0" y="361.7375" font-size="6.8" text-anchor="middle" fill="#5a2218" font-weight="normal" stroke="#5a2218" stroke-width="0.15">17</text>
<text x="453.3" y="349.6125" font-size="6.8" text-anchor="middle" fill="#2e3c4a" font-weight="normal" stroke="#2e3c4a" stroke-width="0.15">11</text>
<text x="453.3" y="361.7375" font-size="6.8" text-anchor="middle" fill="#5a2218" font-weight="normal" stroke="#5a2218" stroke-width="0.15">17</text>
<text x="493.8" y="349.6125" font-size="6.8" text-anchor="middle" fill="#2e3c4a" font-weight="normal" stroke="#2e3c4a" stroke-width="0.15">11</text>
<text x="493.8" y="361.7375" font-size="6.8" text-anchor="middle" fill="#5a2218" font-weight="normal" stroke="#5a2218" stroke-width="0.15">17</text>
<line x1="197.7" y1="376.7" x2="210.5" y2="376.7" stroke="#2e9ac6" stroke-width="1.1"/>
<circle cx="204.1" cy="376.7" r="2.4" fill="#2a96c4"/>
<text x="213.8" y="379.1" font-size="7.9" text-anchor="start" fill="#222" font-weight="normal" textLength="43.6" lengthAdjust="spacingAndGlyphs" stroke="#222" stroke-width="0.12">Mavorixafor</text>
<line x1="260.8" y1="376.7" x2="273.4" y2="376.7" stroke="#ad1838" stroke-width="1.1"/>
<circle cx="267" cy="376.7" r="2.4" fill="#c41230"/>
<text x="276.5" y="379.1" font-size="7.9" text-anchor="start" fill="#222" font-weight="normal" textLength="29.5" lengthAdjust="spacingAndGlyphs" stroke="#222" stroke-width="0.12">Placebo</text>
</svg>
</body></html>
